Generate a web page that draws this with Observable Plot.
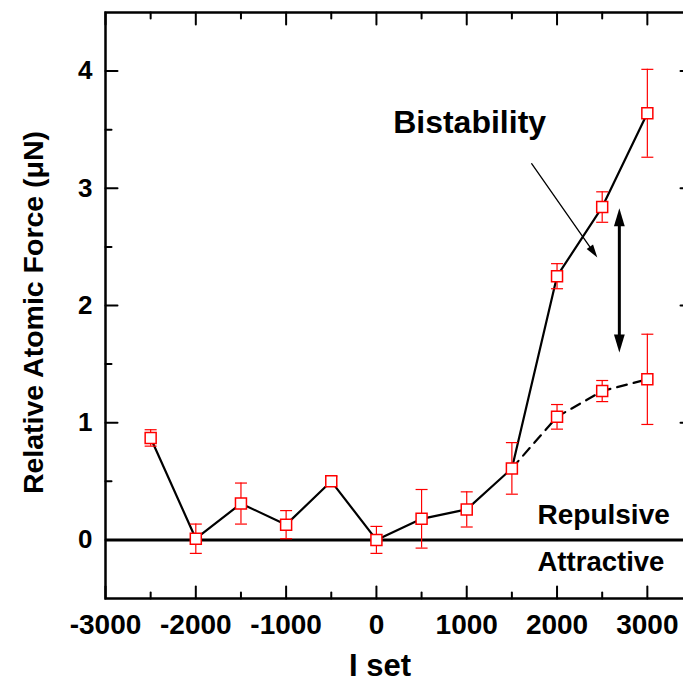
<!DOCTYPE html>
<html><head><meta charset="utf-8">
<script src="https://cdn.jsdelivr.net/npm/d3@7"></script>
<script src="https://cdn.jsdelivr.net/npm/@observablehq/plot@0.6"></script>
<style>body{margin:0;background:#fff;overflow:hidden}</style>
</head><body><div id="chart"></div>
<script>
// Data
const isetLow = [-2500, -2000, -1500, -1000, -500, 0, 500, 1000, 1500];
const forceLow = [0.87, 0.01, 0.31, 0.13, 0.50, 0.00, 0.18, 0.26, 0.61];
const errLow = [0.07, 0.125, 0.175, 0.12, 0.04, 0.115, 0.25, 0.15, 0.22];
const isetBranch = [2000, 2500, 3000];
const forceUpper = [2.25, 2.84, 3.64];
const errUpper = [0.107, 0.13, 0.375];
const forceLower = [1.05, 1.27, 1.37];
const errLower = [0.105, 0.09, 0.385];

const xTicks = [-3000, -2000, -1000, 0, 1000, 2000, 3000];
const xMinor = [-2500, -1500, -500, 500, 1500, 2500];
const yTicks = [0, 1, 2, 3, 4];
const yMinor = [0.5, 1.5, 2.5, 3.5];

// Annotations
const labels = [
  {x: 1032, y: 3.56, text: "Bistability", size: 32},
  {x: 2516, y: 0.21, text: "Repulsive", size: 28},
  {x: 2486, y: -0.19, text: "Attractive", size: 27.5}
];
const thinArrow = {x1: 1719, y1: 3.21, x2: 2446, y2: 2.41};
const doubleArrow = {x: 2690, y1: 1.60, y2: 2.83};

const lowPts = isetLow.map((x, i) => ({x, y: forceLow[i], e: errLow[i]}));
const upperPts = isetBranch.map((x, i) => ({x, y: forceUpper[i], e: errUpper[i]}));
const lowerPts = isetBranch.map((x, i) => ({x, y: forceLower[i], e: errLower[i]}));
const solidPts = [...lowPts, ...upperPts];
const dashedPts = [lowPts[lowPts.length - 1], ...lowerPts];
const allPts = [...lowPts, ...upperPts, ...lowerPts];

const capSymbol = {draw(ctx, size) { const r = Math.sqrt(size / Math.PI); ctx.moveTo(-r, 0); ctx.lineTo(r, 0); }};
const headSymbol = {draw(ctx, size) { const r = Math.sqrt(size / Math.PI); ctx.moveTo(0, 0); ctx.lineTo(-0.3 * r, r); ctx.lineTo(0.3 * r, r); ctx.closePath(); }};
const tickShape = {draw(ctx, l) { ctx.moveTo(0, 0); ctx.lineTo(0, -l); }};

const tickStyle = {shape: tickShape, anchor: "start", stroke: "black", strokeWidth: 2};
const font = "'Liberation Sans', Arial, Helvetica, sans-serif";

const chart = Plot.plot({
  width: 683,
  height: 682,
  marginLeft: 105,
  marginRight: -9,
  marginTop: 12,
  marginBottom: 84,
  style: {fontFamily: font, background: "white", color: "black"},
  x: {domain: [-3000, 3500]},
  y: {domain: [-0.5, 4.5]},
  marks: [
    Plot.ruleY([0], {stroke: "black", strokeWidth: 3}),
    Plot.line(solidPts, {x: "x", y: "y", stroke: "black", strokeWidth: 2.2}),
    Plot.line(dashedPts, {x: "x", y: "y", stroke: "black", strokeWidth: 2.2, strokeDasharray: "10,7"}),
    Plot.ruleX(allPts, {x: "x", y1: d => d.y - d.e, y2: d => d.y + d.e, stroke: "red", strokeWidth: 1.2}),
    Plot.dot(allPts, {x: "x", y: d => d.y + d.e, symbol: capSymbol, r: 6, stroke: "red", strokeWidth: 1.2}),
    Plot.dot(allPts, {x: "x", y: d => d.y - d.e, symbol: capSymbol, r: 6, stroke: "red", strokeWidth: 1.2}),
    Plot.dot(allPts, {x: "x", y: "y", symbol: "square", r: 6.2, fill: "white", stroke: "red", strokeWidth: 1.5}),
    // thin arrow
    Plot.arrow([thinArrow], {x1: "x1", y1: "y1", x2: "x2", y2: "y2", headLength: 0, insetEnd: 6, stroke: "black", strokeWidth: 1.3}),
    Plot.dot([thinArrow], {x: "x2", y: "y2", symbol: headSymbol, r: 13, rotate: 145, fill: "black", stroke: "none"}),
    // double arrow
    Plot.arrow([doubleArrow], {x1: "x", x2: "x", y1: "y1", y2: "y2", headLength: 0, insetStart: 8, insetEnd: 8, stroke: "black", strokeWidth: 3}),
    Plot.dot([doubleArrow], {x: "x", y: "y2", symbol: headSymbol, r: 18, rotate: 0, fill: "black", stroke: "none"}),
    Plot.dot([doubleArrow], {x: "x", y: "y1", symbol: headSymbol, r: 18, rotate: 180, fill: "black", stroke: "none"}),
    // annotations
    Plot.text(labels, {x: "x", y: "y", text: "text", fontSize: d => d.size, fontWeight: "bold", textAnchor: "middle", lineAnchor: "middle", fill: "black"}),
    // frame and inward ticks
    Plot.frame({stroke: "black", strokeWidth: 2.5}),
    Plot.vector(xTicks, {x: d => d, frameAnchor: "bottom", length: 12, rotate: 0, ...tickStyle}),
    Plot.vector(xMinor, {x: d => d, frameAnchor: "bottom", length: 6, rotate: 0, ...tickStyle}),
    Plot.vector(xTicks, {x: d => d, frameAnchor: "top", length: 12, rotate: 180, ...tickStyle}),
    Plot.vector(xMinor, {x: d => d, frameAnchor: "top", length: 6, rotate: 180, ...tickStyle}),
    Plot.vector(yTicks, {y: d => d, frameAnchor: "left", length: 12, rotate: 90, ...tickStyle}),
    Plot.vector(yMinor, {y: d => d, frameAnchor: "left", length: 6, rotate: 90, ...tickStyle}),
    Plot.vector(yTicks, {y: d => d, frameAnchor: "right", length: 12, rotate: 270, ...tickStyle}),
    Plot.vector(yMinor, {y: d => d, frameAnchor: "right", length: 6, rotate: 270, ...tickStyle}),
    // tick labels
    Plot.axisX({anchor: "bottom", ticks: xTicks, tickSize: 0, tickPadding: 16, tickFormat: d => String(d), fontSize: 28, fontWeight: "bold", label: null}),
    Plot.axisY({anchor: "left", ticks: yTicks, tickSize: 0, tickPadding: 13, tickFormat: d => String(d), fontSize: 26, fontWeight: "bold", label: null}),
    // axis titles
    Plot.text(["I set"], {frameAnchor: "bottom", dx: -19, dy: 68, fontSize: 31, fontWeight: "bold", textAnchor: "middle", lineAnchor: "middle", fill: "black"}),
    Plot.text(["Relative Atomic Force (\u03bcN)"], {frameAnchor: "left", dx: -72, dy: 7, rotate: -90, fontSize: 28.5, fontWeight: "bold", textAnchor: "middle", lineAnchor: "middle", fill: "black"})
  ]
});
document.getElementById("chart").appendChild(chart);
</script>
</body></html>
